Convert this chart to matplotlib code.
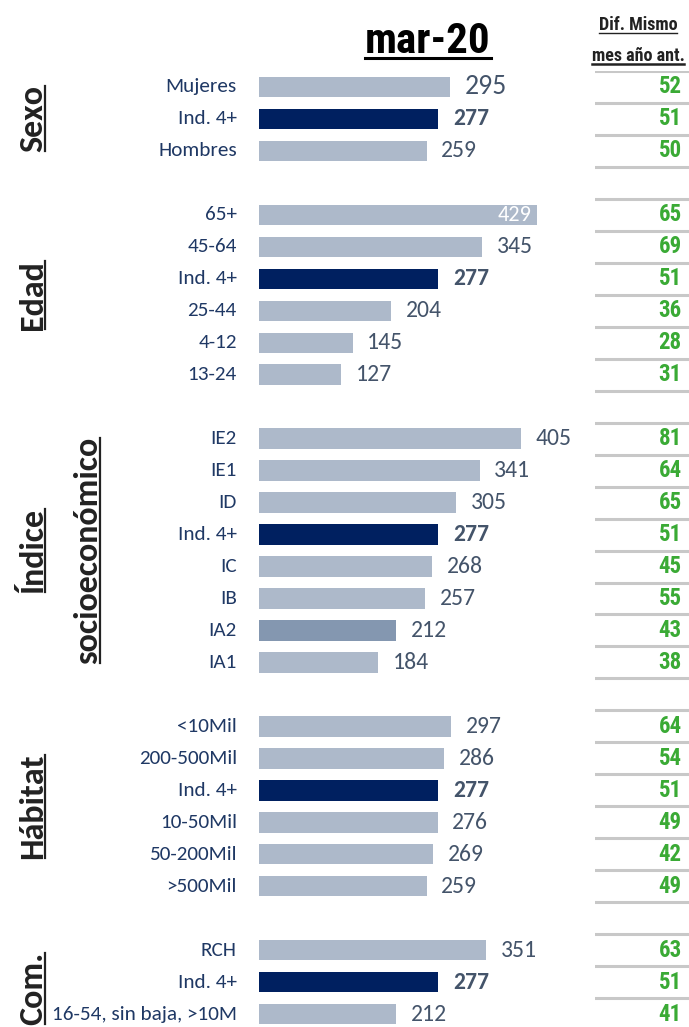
import matplotlib
matplotlib.use("Agg")
import matplotlib.pyplot as plt
import matplotlib.transforms as mtransforms
from matplotlib.lines import Line2D

# Data
groups = ['Sexo', 'Edad', 'Índice\nsocioeconómico', 'Hábitat', 'Com.']
sexo_labels = ['Mujeres', 'Ind. 4+', 'Hombres']
sexo_vals = [295, 277, 259]
sexo_dif = [52, 51, 50]
edad_labels = ['65+', '45-64', 'Ind. 4+', '25-44', '4-12', '13-24']
edad_vals = [429, 345, 277, 204, 145, 127]
edad_dif = [65, 69, 51, 36, 28, 31]
indice_labels = ['IE2', 'IE1', 'ID', 'Ind. 4+', 'IC', 'IB', 'IA2', 'IA1']
indice_vals = [405, 341, 305, 277, 268, 257, 212, 184]
indice_dif = [81, 64, 65, 51, 45, 55, 43, 38]
habitat_labels = ['<10Mil', '200-500Mil', 'Ind. 4+', '10-50Mil', '50-200Mil', '>500Mil']
habitat_vals = [297, 286, 277, 276, 269, 259]
habitat_dif = [64, 54, 51, 49, 42, 49]
com_labels = ['RCH', 'Ind. 4+', '16-54, sin baja, >10M']
com_vals = [351, 277, 212]
com_dif = [63, 51, 41]

title = 'mar-20'
header = ['Dif. Mismo', 'mes año ant.']

block_labels = [sexo_labels, edad_labels, indice_labels, habitat_labels, com_labels]
block_vals = [sexo_vals, edad_vals, indice_vals, habitat_vals, com_vals]
block_dif = [sexo_dif, edad_dif, indice_dif, habitat_dif, com_dif]

LIGHT = '#adb9ca'
NAVY = '#002060'
MID = '#8497b0'
LABEL_C = '#1f3864'
VAL_C = '#44546a'
GREEN = '#3aaa35'
FONT = ['Carlito', 'DejaVu Sans']
NARROW = ['Roboto Condensed', 'Carlito', 'DejaVu Sans']

W, H = 689, 1027
fig = plt.figure(figsize=(W / 100, H / 100), dpi=100)

# row positions: one empty row between groups
rows, labels, vals, difs, group_mid = [], [], [], [], []
pos = 0
for labs, vs, ds in zip(block_labels, block_vals, block_dif):
    start = pos
    for l, v, d in zip(labs, vs, ds):
        rows.append(pos); labels.append(l); vals.append(v); difs.append(d)
        pos += 1
    group_mid.append((start + pos - 1) / 2)
    pos += 1
nrows = rows[-1] + 1

top_px, step = 71, 31.97
ylo, yhi = -0.5, (H - top_px) / step - 0.5
ax = fig.add_axes([259 / W, 0, 301 / W, 1 - top_px / H])
ax.set_xlim(0, 301 / 0.647)
ax.set_ylim(yhi, ylo)
ax.axis('off')

colors = []
for l in labels:
    if l == 'Ind. 4+':
        colors.append(NAVY)
    elif l == 'IA2':
        colors.append(MID)
    else:
        colors.append(LIGHT)
ax.barh(rows, vals, height=0.64, color=colors)

vmax = max(vals)
for r, l, v in zip(rows, labels, vals):
    ax.annotate(l, (0, r), xytext=(-16, 0), textcoords='offset points',
                ha='right', va='center', fontsize=15.2, color=LABEL_C, family=FONT)
    bold = l == 'Ind. 4+'
    size = 20 if l == 'Mujeres' else 17
    if v == vmax:
        ax.annotate(str(v), (v, r), xytext=(-4, 0), textcoords='offset points',
                    ha='right', va='center', fontsize=16, color='white', family=FONT)
    else:
        ax.annotate(str(v), (v, r), xytext=(10.5, 0), textcoords='offset points',
                    ha='left', va='center', fontsize=size, color=VAL_C, family=FONT,
                    fontweight='bold' if bold else 'normal')

# right column
ax2 = fig.add_axes([595 / W, 0, 94 / W, 1 - top_px / H], sharey=ax)
ax2.set_xlim(0, 1)
ax2.axis('off')
for i in range(nrows + 1):
    ax2.axhline(i - 0.5, color='#c8c8c8', lw=2.2)
for r, d in zip(rows, difs):
    ax2.text(0.8, r, str(d), ha='center', va='center', fontsize=16.5,
             color=GREEN, family=NARROW, fontweight='bold')

# group labels (vertical)
blend = mtransforms.blended_transform_factory(fig.transFigure, ax.transData)
gtexts = []
for g, m in zip(groups, group_mid):
    if g == 'Com.':
        m += 0.2
    for k, p in enumerate(g.split('\n')):
        gtexts.append(fig.text((33 + 55 * k) / W, m, p, transform=blend, rotation=90,
                               ha='center', va='center', fontsize=24.5,
                               fontweight='bold', color='#222222', family=FONT))

t_title = fig.text(428 / W, 1 - 53 / H, title, ha='center', va='baseline', fontsize=31,
                   fontweight='bold', color='black', family=NARROW)
t_h1 = fig.text(638 / W, 1 - 30 / H, header[0], ha='center', va='baseline', fontsize=13,
                fontweight='bold', color='#222222', family=NARROW)
t_h2 = fig.text(638 / W, 1 - 61 / H, header[1], ha='center', va='baseline', fontsize=13,
                fontweight='bold', color='#222222', family=NARROW)

# underlines
fig.canvas.draw()
rend = fig.canvas.get_renderer()


def px_line(x0, y0, x1, y1, lw, color):
    fig.add_artist(Line2D([x0 / W, x1 / W], [y0 / H, y1 / H], transform=fig.transFigure,
                          lw=lw, color=color))


for t in gtexts:
    bb = t.get_window_extent(rend)
    px_line(bb.x1 - 3, bb.y0 + 1, bb.x1 - 3, bb.y1 - 1, 1.6, '#222222')
bb = t_title.get_window_extent(rend)
px_line(bb.x0, H - 58, bb.x1, H - 58, 2.2, 'black')
bb = t_h1.get_window_extent(rend)
px_line(bb.x0, H - 33, bb.x1, H - 33, 1.0, '#222222')
bb = t_h2.get_window_extent(rend)
px_line(bb.x0, H - 64, bb.x1, H - 64, 1.8, '#222222')

fig.savefig('out.png', dpi=100)
